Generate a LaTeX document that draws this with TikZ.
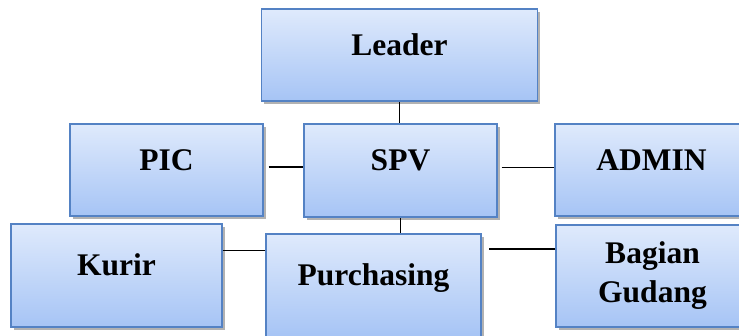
\documentclass[tikz,border=0pt]{standalone}
\usepackage{fontspec}
\setmainfont{Liberation Serif}
\usepackage{tikz}
\usetikzlibrary{shadows,backgrounds}
\definecolor{frame}{HTML}{5482C4}
\definecolor{boxtop}{HTML}{DFEAFC}
\definecolor{boxbot}{HTML}{A6C4F5}

\begin{document}
\begin{tikzpicture}[x=1pt,y=-1pt,
  box/.style={draw=frame,line width=1.3pt,top color=boxtop,bottom color=boxbot,
              drop shadow={shadow xshift=2.5pt,shadow yshift=-3pt,fill=black,opacity=.3},
              inner sep=0pt,align=center,
              font=\fontsize{31.5}{39}\selectfont\bfseries},
  oneline/.style={text height=12pt,text depth=12pt},
  link/.style={draw=black,line width=1.4pt}
]
\useasboundingbox (0,0) rectangle (739,335);
\clip (0,0) rectangle (739,335);
\node[box,oneline,minimum width=276pt,minimum height=92pt] (lead) at (399.5,55) {Leader};
\node[box,oneline,minimum width=193pt,minimum height=93pt] (spv) at (400.5,170.5) {SPV};
\node[box,oneline,minimum width=193pt,minimum height=92pt] (pic) at (166.5,170) {PIC};
\node[box,oneline,minimum width=193pt,minimum height=92pt] (admin) at (651.5,170) {ADMIN};
\node[box,oneline,minimum width=211pt,minimum height=103pt] (kurir) at (116.5,275.5) {Kurir};
\node[box,oneline,minimum width=215pt,minimum height=103pt] (purch) at (373.5,285.5) {Purchasing};
\node[box,minimum width=193pt,minimum height=102pt] (bagian) at (652.5,276) {Bagian\\Gudang};
\begin{scope}[on background layer]
\draw[link] (lead.south) -- (lead.south |- spv.north);
\draw[link] (spv.south) -- (spv.south |- purch.north);
\end{scope}
\draw[link,shorten <=5pt] ([yshift=3pt]pic.east) -- ([yshift=3pt]pic.east -| spv.west);
\draw[link,shorten <=4pt] ([yshift=3pt]spv.east) -- ([yshift=3pt]spv.east -| admin.west);
\draw[link] ([yshift=25pt]kurir.east) -- ([yshift=25pt]kurir.east -| purch.west);
\draw[link,shorten >=7pt] ([yshift=27pt]bagian.west) -- ([yshift=27pt]bagian.west -| purch.east);
\end{tikzpicture}
\end{document}
